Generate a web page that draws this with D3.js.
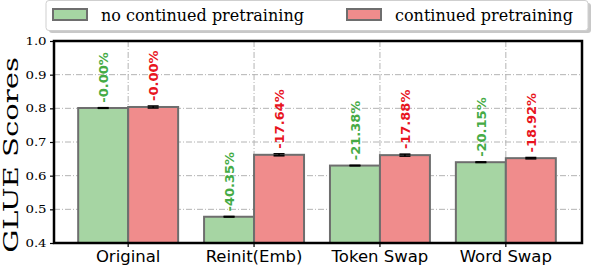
<!DOCTYPE html>
<html>
<head>
<meta charset="utf-8">
<script src="https://cdn.jsdelivr.net/npm/d3@7"></script>
<style>
  body { margin: 0; background: #fff; }
</style>
</head>
<body>
<div id="chart"></div>
<script>
var categories = ["Original", "Reinit(Emb)", "Token Swap", "Word Swap"];
var seriesNames = ["no continued pretraining", "continued pretraining"];
var noContinued = [0.801, 0.478, 0.630, 0.640];
var continued = [0.804, 0.662, 0.661, 0.652];
var noContinuedErr = [0.001, 0.001, 0.001, 0.001];
var continuedErr = [0.003, 0.003, 0.003, 0.002];
var noContinuedLabels = ["-0.00%", "-40.35%", "-21.38%", "-20.15%"];
var continuedLabels = ["-0.00%", "-17.64%", "-17.88%", "-18.92%"];
var yTicks = [0.4, 0.5, 0.6, 0.7, 0.8, 0.9, 1.0];

var width = 592, height = 268;
var margin = { top: 41, right: 10, bottom: 25, left: 54 };
var w = width - margin.left - margin.right,
    h = height - margin.top - margin.bottom;

var fills = ["#a6d5a3", "#f08c8c"];
var labelColors = ["#45ab45", "#e8141e"];
var serif = "'DejaVu Serif', serif";

var svg = d3.select("#chart").append("svg")
    .attr("width", width)
    .attr("height", height);

var g = svg.append("g")
    .attr("transform", "translate(" + margin.left + "," + margin.top + ")");

var x = d3.scaleBand().domain(categories).range([-1, w - 1]).paddingInner(0.206).paddingOuter(0.2);
var xs = d3.scaleBand().domain([0, 1]).range([0, x.bandwidth()]);
var y = d3.scaleLinear().domain([0.4, 1.0]).range([h, 0]);

// grid
g.append("g").selectAll("line").data(yTicks.slice(1, -1)).enter().append("line")
    .attr("x1", 0).attr("x2", w)
    .attr("y1", function (d) { return y(d); }).attr("y2", function (d) { return y(d); })
    .attr("stroke", "#b4b4b4").attr("stroke-width", 1)
    .attr("stroke-dasharray", "6,2,1,2");
g.append("g").selectAll("line").data(categories).enter().append("line")
    .attr("x1", function (d) { return x(d) + x.bandwidth() / 2; })
    .attr("x2", function (d) { return x(d) + x.bandwidth() / 2; })
    .attr("y1", 0).attr("y2", h)
    .attr("stroke", "#b4b4b4").attr("stroke-width", 1)
    .attr("stroke-dasharray", "6,2,1,2");

var series = [
    { vals: noContinued, err: noContinuedErr, labels: noContinuedLabels },
    { vals: continued, err: continuedErr, labels: continuedLabels }
];

series.forEach(function (s, si) {
    var grp = g.append("g");
    var data = categories.map(function (c, i) {
        return { cat: c, v: s.vals[i], e: s.err[i], lab: s.labels[i] };
    });
    grp.selectAll("rect").data(data).enter().append("rect")
        .attr("x", function (d) { return x(d.cat) + xs(si); })
        .attr("width", xs.bandwidth())
        .attr("y", function (d) { return y(d.v); })
        .attr("height", function (d) { return h - y(d.v); })
        .attr("fill", fills[si])
        .attr("stroke", "#6e6e6e")
        .attr("stroke-width", 2);

    var eb = grp.selectAll(".eb").data(data).enter().append("g").attr("class", "eb");
    var cx = function (d) { return x(d.cat) + xs(si) + xs.bandwidth() / 2; };
    eb.append("line")
        .attr("x1", cx).attr("x2", cx)
        .attr("y1", function (d) { return y(d.v - d.e); })
        .attr("y2", function (d) { return y(d.v + d.e); })
        .attr("stroke", "#000").attr("stroke-width", 1.5);
    [-1, 1].forEach(function (sgn) {
        eb.append("line")
            .attr("x1", function (d) { return cx(d) - 5.5; })
            .attr("x2", function (d) { return cx(d) + 5.5; })
            .attr("y1", function (d) { return y(d.v + sgn * d.e); })
            .attr("y2", function (d) { return y(d.v + sgn * d.e); })
            .attr("stroke", "#000").attr("stroke-width", 1.5);
    });

    grp.selectAll(".lab").data(data).enter().append("text")
        .attr("class", "lab")
        .attr("transform", function (d) {
            return "translate(" + (cx(d) + 5) + "," + (y(d.v + d.e) - 5) + ") rotate(-90)";
        })
        .attr("font-family", "'DejaVu Sans', sans-serif")
        .attr("font-weight", "bold")
        .attr("font-size", 13)
        .attr("fill", labelColors[si])
        .text(function (d) { return d.lab; });
});

// axes
var yAxis = d3.axisLeft(y).tickValues(yTicks).tickFormat(d3.format(".1f")).tickSize(4).tickPadding(3);
var ya = g.append("g").call(yAxis);
ya.select(".domain").remove();
ya.selectAll("text")
    .attr("font-family", serif).attr("font-size", 10.5).attr("fill", "#000")
    .attr("transform", "translate(1.5,0) scale(1.27,1)");
ya.selectAll("line").attr("stroke-width", 1.2);

var xAxis = d3.axisBottom(x).tickSize(4).tickPadding(3);
var xa = g.append("g").attr("transform", "translate(0," + h + ")").call(xAxis);
xa.select(".domain").remove();
xa.selectAll("text").attr("font-family", "'DejaVu Sans', sans-serif").attr("font-size", 16.5).attr("fill", "#000");
xa.selectAll("line").attr("stroke-width", 1.2);

g.append("rect")
    .attr("x", 0).attr("y", 0).attr("width", w).attr("height", h)
    .attr("fill", "none").attr("stroke", "#000").attr("stroke-width", 2.5);

// y label
svg.append("text")
    .attr("transform", "translate(" + 18 + "," + 155 + ") rotate(-90) scale(1.42,1)")
    .attr("text-anchor", "middle")
    .attr("font-family", serif)
    .attr("font-size", 20.5)
    .text("GLUE Scores");

// legend
var leg = svg.append("g");
leg.append("rect").attr("x", 49).attr("y", 3).attr("width", 542).attr("height", 30).attr("rx", 3)
    .attr("fill", "#c8c8c8");
leg.append("rect").attr("x", 46).attr("y", 0.5).attr("width", 542).attr("height", 30).attr("rx", 3)
    .attr("fill", "#fff").attr("stroke", "#cfcfcf").attr("stroke-width", 1);
var legX = [53, 347];
seriesNames.forEach(function (n, i) {
    leg.append("rect").attr("x", legX[i]).attr("y", 9).attr("width", 34).attr("height", 11)
        .attr("fill", fills[i]).attr("stroke", "#6e6e6e").attr("stroke-width", 2);
    leg.append("text").attr("x", legX[i] + 48).attr("y", 20.5)
        .attr("font-family", serif).attr("font-size", 16)
        .text(n);
});
</script>
</body>
</html>
